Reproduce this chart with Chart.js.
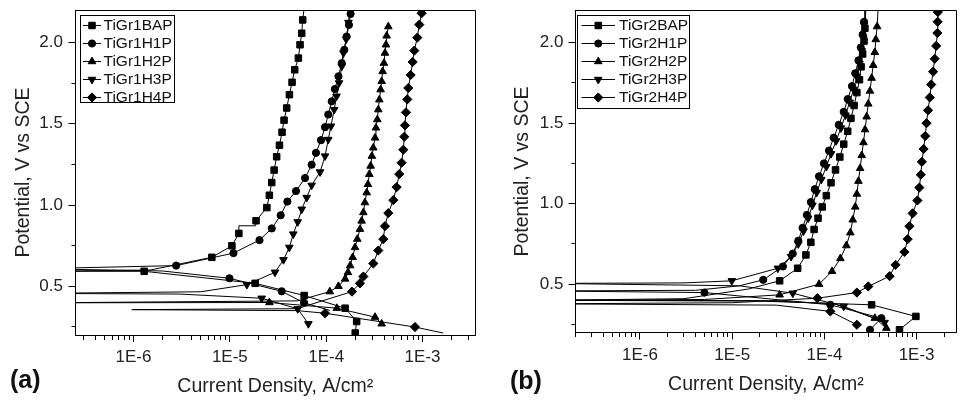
<!DOCTYPE html>
<html><head><meta charset="utf-8">
<script src="https://cdn.jsdelivr.net/npm/chart.js@4.4.1/dist/chart.umd.min.js"></script>
<style>
html,body{margin:0;padding:0;background:#fff;}
#wrap{position:relative;width:962px;height:402px;overflow:hidden;background:#fff;}
.pane{position:absolute;top:0;width:481px;height:402px;}
.tag{position:absolute;font:bold 25px "Liberation Sans",Arial,sans-serif;line-height:25px;color:#111;}
</style></head><body>
<div id="wrap">
<div class="pane" style="left:0"><canvas id="ca" width="481" height="402"></canvas></div>
<div class="pane" style="left:481px"><canvas id="cb" width="481" height="402"></canvas></div>
<div class="tag" style="left:10px;top:367px">(a)</div>
<div class="tag" style="left:510px;top:368px">(b)</div>
</div>
<script>
// ---------- data ----------
const namesA = ['TiGr1BAP','TiGr1H1P','TiGr1H2P','TiGr1H3P','TiGr1H4P'];
const namesB = ['TiGr2BAP','TiGr2H1P','TiGr2H2P','TiGr2H3P','TiGr2H4P'];
const xTitle = 'Current Density, A/cm²';
const yTitle = 'Potential, V vs SCE';
const yTickValues = [0.25,0.5,0.75,1.0,1.25,1.5,1.75,2.0];
const yRange = [0.2, 2.2];
const xRangeA = [2.5e-7, 3.5e-3];
const xRangeB = [2e-7, 2.7e-3];

// panel (a)  current density (A/cm2), potential (V), indices drawn without a marker
const gr1BAP_I = [2.0e-4,2.07e-4,1.57e-4,5.9e-5,1.83e-5,1.29e-6,1e-7,1.5e-6,6.5e-6,1.05e-5,1.24e-5,1.24e-5,1.85e-5,1.87e-5,2.42e-5,2.57e-5,2.72e-5,2.88e-5,3.06e-5,3.27e-5,3.48e-5,3.65e-5,3.89e-5,4.15e-5,4.42e-5,4.71e-5,5.14e-5,5.35e-5,5.57e-5,5.70e-5,5.9e-5];
const gr1BAP_E = [0.212,0.283,0.365,0.443,0.518,0.592,0.592,0.600,0.678,0.749,0.825,0.872,0.872,0.903,0.984,1.060,1.138,1.215,1.297,1.368,1.448,1.522,1.597,1.679,1.755,1.832,1.904,1.986,2.057,2.139,2.21];
const gr1BAP_bare = [6,7,11,12,30];

const gr1H1P_I = [1.09e-4,5.89e-5,3.45e-5,9.9e-6,2e-6,1e-7,2.77e-6,1.09e-5,2.03e-5,2.72e-5,3.37e-5,3.95e-5,4.86e-5,6.03e-5,7.06e-5,7.83e-5,8.83e-5,9.72e-5,1.05e-4,1.14e-4,1.23e-4,1.34e-4,1.45e-4,1.54e-4,1.63e-4,1.72e-4,1.79e-4,1.85e-4];
const gr1H1P_E = [0.351,0.398,0.469,0.549,0.594,0.608,0.627,0.704,0.784,0.856,0.937,1.021,1.086,1.166,1.248,1.321,1.399,1.479,1.557,1.638,1.714,1.792,1.873,1.955,2.037,2.108,2.176,2.22];
const gr1H1P_bare = [0,4,5,27];

const gr1H2P_I = [3.76e-4,3.21e-4,1.29e-4,2.57e-5,1e-7,5e-5,1.09e-4,1.34e-4,1.57e-4,1.68e-4,1.77e-4,1.88e-4,1.99e-4,2.10e-4,2.24e-4,2.33e-4,2.43e-4,2.52e-4,2.63e-4,2.71e-4,2.80e-4,2.89e-4,2.98e-4,3.08e-4,3.21e-4,3.28e-4,3.39e-4,3.47e-4,3.56e-4,3.67e-4,3.76e-4,3.85e-4,3.97e-4,4.07e-4,4.17e-4,4.24e-4,4.41e-4];
const gr1H2P_E = [0.269,0.310,0.365,0.400,0.398,0.41,0.467,0.50,0.545,0.585,0.627,0.678,0.739,0.79,0.851,0.902,0.954,1.015,1.076,1.127,1.189,1.240,1.301,1.352,1.413,1.475,1.526,1.587,1.648,1.710,1.761,1.822,1.873,1.935,1.986,2.041,2.098];
const gr1H2P_bare = [4,5];

const gr1H3P_I = [6.53e-5,5.06e-5,2.14e-5,3e-6,1e-7,5e-6,1.50e-5,2.94e-5,3.60e-5,4.14e-5,4.55e-5,5.06e-5,5.57e-5,6.27e-5,7.06e-5,8.63e-5,9.72e-5,1.05e-4,1.12e-4,1.21e-4,1.28e-4,1.36e-4,1.45e-4,1.51e-4,1.61e-4,1.70e-4,1.77e-4];
const gr1H3P_E = [0.269,0.361,0.426,0.452,0.456,0.466,0.510,0.586,0.663,0.739,0.821,0.896,0.974,1.046,1.121,1.203,1.301,1.403,1.485,1.587,1.669,1.751,1.853,1.935,2.02,2.123,2.21];
const gr1H3P_bare = [3,4,5,26];

const gr1H4P_I = [1.64e-3,8.34e-4,9.72e-5,5e-5,9.6e-7,5e-5,1.85e-4,2.24e-4,2.43e-4,3.08e-4,3.47e-4,3.91e-4,4.07e-4,4.41e-4,4.97e-4,5.38e-4,5.73e-4,6.06e-4,6.31e-4,6.46e-4,6.56e-4,6.72e-4,6.94e-4,7.11e-4,7.52e-4,7.88e-4,8.20e-4,8.81e-4,9.24e-4,9.77e-4,1.0e-3];
const gr1H4P_E = [0.212,0.249,0.334,0.35,0.356,0.362,0.467,0.518,0.56,0.64,0.72,0.79,0.87,0.95,1.03,1.11,1.19,1.26,1.34,1.42,1.49,1.57,1.65,1.72,1.80,1.88,1.95,2.03,2.11,2.18,2.23];
const gr1H4P_bare = [0,3,4,5,30];

// panel (b)
const gr2BAP_I = [6.52e-4,9.82e-4,3.25e-4,2e-5,1e-7,3e-6,1.5e-5,3.27e-5,5.13e-5,6.30e-5,7.13e-5,7.73e-5,8.53e-5,9.48e-5,1.05e-4,1.18e-4,1.32e-4,1.47e-4,1.62e-4,1.79e-4,1.94e-4,2.10e-4,2.25e-4,2.40e-4,2.50e-4,2.60e-4,2.69e-4,2.75e-4,2.82e-4];
const gr2BAP_E = [0.217,0.300,0.372,0.395,0.400,0.41,0.47,0.521,0.599,0.682,0.76,0.84,0.91,0.98,1.05,1.13,1.21,1.29,1.37,1.45,1.53,1.61,1.69,1.77,1.85,1.93,2.01,2.09,2.22];
const gr2BAP_bare = [3,4,5,6,28];

const gr2H1P_I = [3.12e-4,4.15e-4,1.16e-4,5.0e-6,1e-7,4e-6,1.2e-5,2.17e-5,3.55e-5,4.54e-5,5.21e-5,5.80e-5,6.45e-5,7.13e-5,7.86e-5,8.74e-5,9.89e-5,1.12e-4,1.26e-4,1.43e-4,1.62e-4,1.79e-4,1.99e-4,2.16e-4,2.34e-4,2.48e-4,2.60e-4,2.69e-4,2.75e-4];
const gr2H1P_E = [0.217,0.289,0.372,0.448,0.458,0.462,0.49,0.527,0.610,0.69,0.77,0.85,0.93,1.01,1.09,1.17,1.25,1.33,1.41,1.49,1.57,1.65,1.73,1.81,1.89,1.97,2.05,2.13,2.22];
const gr2H1P_bare = [4,5,6,28];

const gr2H2P_I = [4.70e-4,3.52e-4,1.26e-4,2e-5,1e-7,5e-6,3.27e-5,8.75e-5,1.21e-4,1.49e-4,1.73e-4,1.91e-4,2.03e-4,2.16e-4,2.25e-4,2.34e-4,2.44e-4,2.54e-4,2.65e-4,2.76e-4,2.87e-4,2.99e-4,3.12e-4,3.25e-4,3.38e-4,3.52e-4,3.61e-4,3.73e-4,3.83e-4];
const gr2H2P_E = [0.227,0.289,0.38,0.398,0.400,0.405,0.434,0.50,0.58,0.66,0.74,0.82,0.90,0.98,1.06,1.14,1.22,1.30,1.38,1.46,1.54,1.62,1.70,1.78,1.86,1.94,2.02,2.10,2.22];
const gr2H2P_bare = [2,3,4,5,28];

const gr2H3P_I = [4.50e-4,1.62e-4,4.54e-5,1.2e-5,1e-7,3e-6,9.9e-6,3.13e-5,4.35e-5,5.21e-5,5.94e-5,6.67e-5,7.41e-5,8.26e-5,9.25e-5,1.05e-4,1.18e-4,1.34e-4,1.51e-4,1.69e-4,1.88e-4,2.07e-4,2.25e-4,2.40e-4,2.54e-4,2.64e-4,2.69e-4,2.75e-4];
const gr2H3P_E = [0.262,0.362,0.444,0.49,0.505,0.508,0.521,0.599,0.671,0.75,0.83,0.91,0.99,1.07,1.15,1.23,1.31,1.39,1.47,1.55,1.63,1.71,1.79,1.87,1.95,2.03,2.11,2.22];
const gr2H3P_bare = [3,4,5,27];

const gr2H4P_I = [2.25e-4,1.16e-4,3e-5,1e-7,1e-5,8.39e-5,2.25e-4,2.99e-4,5.10e-4,5.91e-4,7.38e-4,8.00e-4,8.34e-4,9.05e-4,1.02e-3,1.07e-3,1.11e-3,1.14e-3,1.19e-3,1.24e-3,1.28e-3,1.33e-3,1.39e-3,1.44e-3,1.51e-3,1.57e-3,1.63e-3,1.68e-3,1.69e-3,1.70e-3,1.71e-3];
const gr2H4P_E = [0.248,0.331,0.37,0.378,0.385,0.413,0.448,0.486,0.55,0.62,0.70,0.78,0.86,0.94,1.02,1.10,1.18,1.26,1.34,1.42,1.50,1.58,1.66,1.74,1.82,1.90,1.98,2.06,2.13,2.19,2.25];
const gr2H4P_bare = [2,3,4,30];

// ---------- styling ----------
const FONT = '"Liberation Sans", Arial, Helvetica, sans-serif';
const markers = [
  {pointStyle:'rect', rotation:0, r:4.6},
  {pointStyle:'circle', rotation:0, r:3.6},
  {pointStyle:'triangle', rotation:0, r:4.4},
  {pointStyle:'triangle', rotation:180, r:4.4},
  {pointStyle:'rectRot', rotation:0, r:4.6}
];

function isDecade(v){ const l = Math.log10(v); return Math.abs(l - Math.round(l)) < 1e-6; }
function isHalf(v){ return Math.abs(v*2 - Math.round(v*2)) < 1e-6; }
function logTicks(min, max){
  const t = [];
  for (let e = Math.floor(Math.log10(min)); e <= Math.ceil(Math.log10(max)); e++) {
    for (let s = 1; s <= 9; s++) {
      const v = s * Math.pow(10, e);
      if (v >= min*0.99999 && v <= max*1.00001) t.push({value: v, major: s === 1});
    }
  }
  return t;
}
function mkDataset(name, I, E, bare, st){
  return {
    label: name,
    data: I.map((v,k) => ({x: v, y: E[k]})),
    showLine: true, tension: 0,
    borderColor: '#000', borderWidth: 1, backgroundColor: '#000',
    pointBackgroundColor: '#000', pointBorderColor: '#000', pointBorderWidth: 1,
    pointStyle: st.pointStyle, pointRotation: st.rotation,
    pointRadius: I.map((v,k) => bare.includes(k) ? 0 : st.r),
    pointHoverRadius: 0,
    legendRadius: st.r,
    clip: 0
  };
}

const framePlugin = {
  id: 'frame',
  afterDatasetsDraw(chart){
    const {ctx, chartArea: a} = chart;
    ctx.save();
    ctx.strokeStyle = '#000'; ctx.lineWidth = 1; ctx.setLineDash([]);
    const t = Math.round(a.top - 0.5) + 0.5;
    const r = Math.round(a.right - 0.5) + 0.5;
    ctx.beginPath();
    ctx.moveTo(a.left, t); ctx.lineTo(r, t); ctx.lineTo(r, a.bottom);
    ctx.stroke();
    ctx.restore();
  }
};

const legendPlugin = {
  id: 'boxLegend',
  afterDatasetsDraw(chart, args, o){
    const ctx = chart.ctx;
    ctx.save();
    ctx.fillStyle = '#fff'; ctx.fillRect(o.x, o.y, o.w, o.h);
    ctx.strokeStyle = '#000'; ctx.lineWidth = 1; ctx.setLineDash([]);
    ctx.strokeRect(o.x + 0.5, o.y + 0.5, o.w, o.h);
    chart.data.datasets.forEach((ds, k) => {
      const y = Math.round(o.y0 + k*o.dy) + 0.5;
      ctx.strokeStyle = '#000'; ctx.lineWidth = 1;
      ctx.beginPath(); ctx.moveTo(o.l0, y); ctx.lineTo(o.l1, y); ctx.stroke();
      ctx.fillStyle = '#000';
      Chart.helpers.drawPoint(ctx, {pointStyle: ds.pointStyle, rotation: ds.pointRotation, radius: ds.legendRadius, borderWidth: 1}, (o.l0 + o.l1)/2, y);
      ctx.fillStyle = '#111';
      ctx.font = '15.5px ' + FONT;
      ctx.textBaseline = 'middle'; ctx.textAlign = 'left';
      ctx.fillText(ds.label, o.tx, y + 0.5);
    });
    ctx.restore();
  }
};

function makeChart(canvas, datasets, o){
  return new Chart(canvas, {
    type: 'scatter',
    data: {datasets},
    options: {
      responsive: false, animation: false, devicePixelRatio: 1, events: [],
      layout: {padding: {left: 0, right: o.padRight, top: o.padTop, bottom: 0}},
      plugins: {legend: {display: false}, tooltip: {enabled: false}, boxLegend: o.legend},
      scales: {
        x: {
          type: 'logarithmic', position: 'bottom', min: o.xr[0], max: o.xr[1], bounds: 'data',
          afterBuildTicks: s => { s.ticks = logTicks(s.min, s.max); },
          afterFit: s => { s.height = o.xh; s.paddingLeft = 0; s.paddingRight = 0; },
          ticks: {autoSkip: false, maxRotation: 0, minRotation: 0, padding: 5.5, color: '#222',
                  font: {family: FONT, size: 17},
                  callback: v => isDecade(v) ? ('1E' + Math.round(Math.log10(v))) : ''},
          grid: {drawOnChartArea: false, drawTicks: true, tickLength: 7, tickColor: '#000', tickWidth: 1,
                 tickBorderDash: c => (c.tick && isDecade(c.tick.value)) ? [] : [4, 100]},
          border: {display: true, color: '#000', width: 1},
          title: {display: true, text: xTitle, color: '#222', font: {family: FONT, size: 19.5},
                  padding: {top: 0, bottom: o.xtPad}}
        },
        y: {
          type: 'linear', position: 'left', min: yRange[0], max: yRange[1], bounds: 'data',
          afterBuildTicks: s => { s.ticks = yTickValues.map(v => ({value: v})); },
          afterFit: s => { s.width = o.yw; s.paddingTop = 0; s.paddingBottom = 0; },
          ticks: {autoSkip: false, padding: o.ytp, color: '#222', font: {family: FONT, size: 17},
                  callback: v => isHalf(v) ? Number(v).toFixed(1) : ''},
          grid: {drawOnChartArea: false, drawTicks: true, tickLength: 7, tickColor: '#000', tickWidth: 1,
                 tickBorderDash: c => (c.tick && isHalf(c.tick.value)) ? [] : [0, 3, 4, 100]},
          border: {display: true, color: '#000', width: 1},
          title: {display: true, text: yTitle, color: '#222', font: {family: FONT, size: 19.5},
                  padding: {top: o.ytPad, bottom: 0}}
        }
      }
    },
    plugins: [framePlugin, legendPlugin]
  });
}

const dsA = [
  mkDataset(namesA[0], gr1BAP_I, gr1BAP_E, gr1BAP_bare, markers[0]),
  mkDataset(namesA[1], gr1H1P_I, gr1H1P_E, gr1H1P_bare, markers[1]),
  mkDataset(namesA[2], gr1H2P_I, gr1H2P_E, gr1H2P_bare, markers[2]),
  mkDataset(namesA[3], gr1H3P_I, gr1H3P_E, gr1H3P_bare, markers[3]),
  mkDataset(namesA[4], gr1H4P_I, gr1H4P_E, gr1H4P_bare, markers[4])
];
const dsB = [
  mkDataset(namesB[0], gr2BAP_I, gr2BAP_E, gr2BAP_bare, markers[0]),
  mkDataset(namesB[1], gr2H1P_I, gr2H1P_E, gr2H1P_bare, markers[1]),
  mkDataset(namesB[2], gr2H2P_I, gr2H2P_E, gr2H2P_bare, markers[2]),
  mkDataset(namesB[3], gr2H3P_I, gr2H3P_E, gr2H3P_bare, markers[3]),
  mkDataset(namesB[4], gr2H4P_I, gr2H4P_E, gr2H4P_bare, markers[4])
];

makeChart(document.getElementById('ca'), dsA, {
  xr: xRangeA, padRight: 6, padTop: 10, xh: 67, yw: 75.5, ytp: 5.5, xtPad: 3.6, ytPad: 12.3,
  legend: {x: 80, y: 15, w: 94, h: 87, y0: 25, dy: 18, l0: 83, l1: 101, tx: 103.5}
});
makeChart(document.getElementById('cb'), dsB, {
  xr: xRangeB, padRight: 0, padTop: 10.5, xh: 69.5, yw: 94.5, ytp: 5, xtPad: 5.3, ytPad: 30.3,
  legend: {x: 96, y: 15, w: 112, h: 93, y0: 25, dy: 18, l0: 100.5, l1: 134, tx: 138}
});
</script>
</body></html>
